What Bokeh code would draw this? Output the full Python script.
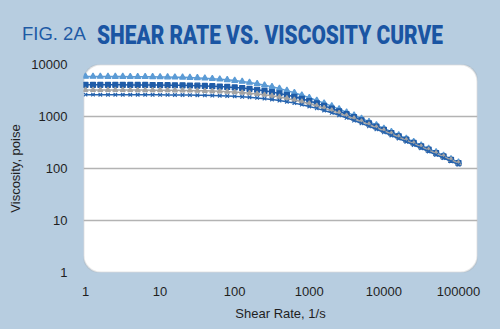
from bokeh.plotting import figure
from bokeh.layouts import column
from bokeh.models import (Range1d, FixedTicker, CustomJSTickFormatter, BoxAnnotation,
                          ColumnDataSource, Div)
from bokeh.embed import file_html
from bokeh.resources import INLINE

# Shear rate, 1/s (10 points per decade)
shear_rate = [1, 1.26, 1.58, 2, 2.51, 3.16, 3.98, 5.01, 6.31, 7.94,
              10, 12.6, 15.8, 20, 25.1, 31.6, 39.8, 50.1, 63.1, 79.4,
              100, 126, 158, 200, 251, 316, 398, 501, 631, 794,
              1000, 1260, 1580, 2000, 2510, 3160, 3980, 5010, 6310, 7940,
              10000, 12600, 15800, 20000, 25100, 31600, 39800, 50100, 63100, 79400,
              100000]

# Viscosity, poise (four samples)
visc_a = [5880, 5873, 5869, 5864, 5858, 5850, 5840, 5828, 5812, 5793,
          5769, 5738, 5701, 5655, 5598, 5529, 5445, 5343, 5222, 5078,
          4911, 4720, 4503, 4263, 4004, 3727, 3440, 3147, 2855, 2570,
          2298, 2040, 1803, 1584, 1387, 1209, 1052, 913, 791, 684,
          590, 509, 439, 378, 325, 280, 241, 207, 178, 153,
          132]
visc_b = [4069, 4068, 4066, 4064, 4061, 4058, 4054, 4048, 4041, 4033,
          4022, 4009, 3992, 3971, 3946, 3914, 3875, 3827, 3769, 3700,
          3616, 3518, 3403, 3271, 3122, 2956, 2778, 2587, 2389, 2187,
          1986, 1789, 1601, 1423, 1258, 1107, 970, 847, 738, 641,
          555, 481, 416, 359, 310, 267, 230, 198, 171, 147,
          127]
visc_c = [3233, 3232, 3231, 3229, 3228, 3226, 3223, 3220, 3216, 3210,
          3204, 3196, 3185, 3172, 3156, 3136, 3112, 3081, 3044, 2999,
          2945, 2880, 2803, 2714, 2611, 2495, 2366, 2226, 2077, 1921,
          1762, 1604, 1448, 1299, 1158, 1027, 906, 796, 698, 609,
          531, 462, 401, 348, 301, 261, 226, 195, 169, 146,
          126]
visc_d = [2628, 2628, 2627, 2626, 2625, 2623, 2622, 2620, 2617, 2613,
          2609, 2604, 2597, 2589, 2578, 2565, 2549, 2529, 2504, 2474,
          2438, 2394, 2341, 2279, 2206, 2123, 2028, 1923, 1809, 1688,
          1561, 1432, 1303, 1177, 1056, 941, 835, 736, 647, 567,
          495, 431, 375, 326, 283, 245, 212, 183, 159, 137,
          119]

x_ticks = [1, 10, 100, 1000, 10000, 100000]
y_ticks = [1, 10, 100, 1000, 10000]
grid_ticks = [10, 100, 1000]

fig_no = "FIG. 2A"
fig_title = "SHEAR RATE VS. VISCOSITY CURVE"

BG = "#b7cde0"
TXT = "#1f1f1f"
FONT = "Liberation Sans"

# ---- header with the figure title ----
header_html = (
    '<div style="position:relative;width:500px;height:56px;">'
    '<span style="position:absolute;left:22px;top:25px;font-family:\'Liberation Sans\';'
    'font-size:18.5px;line-height:1;color:#1e5aa5;white-space:nowrap;">' + fig_no + '</span>'
    '<span style="position:absolute;left:97px;top:23px;font-family:Roboto;font-weight:900;'
    'font-size:25px;line-height:1;color:#1a55a3;white-space:nowrap;display:inline-block;'
    'transform:scaleX(0.835);transform-origin:0 0;">' + fig_title + '</span>'
    '</div>'
)
head = Div(text=header_html, width=500, height=56, margin=0,
           styles={"background-color": BG, "overflow": "hidden"})

# ---- main chart ----
p = figure(width=500, height=273, x_axis_type="log", y_axis_type="log",
           output_backend="svg", toolbar_location=None,
           x_range=Range1d(0.94, 179800), y_range=Range1d(1, 10000),
           min_border_left=83, min_border_right=23, min_border_top=8,
           min_border_bottom=57, margin=0)
p.background_fill_color = BG
p.border_fill_color = BG
p.outline_line_color = None

panel = BoxAnnotation(fill_color="white", fill_alpha=1.0, line_color="#a9a9a9",
                      line_width=2, border_radius=17, level="image")
p.add_layout(panel)

p.xgrid.visible = False
p.ygrid.ticker = FixedTicker(ticks=grid_ticks)
p.ygrid.grid_line_color = "#b3b3b3"
p.ygrid.grid_line_width = 1.5

fmt = CustomJSTickFormatter(code="return Math.round(tick).toString();")
for ax, ticks in ((p.xaxis, x_ticks), (p.yaxis, y_ticks)):
    ax.ticker = FixedTicker(ticks=ticks)
    ax.formatter = fmt
    ax.axis_line_color = None
    ax.major_tick_line_color = None
    ax.minor_tick_line_color = None
    ax.major_label_text_font = FONT
    ax.major_label_text_font_size = "13px"
    ax.major_label_text_color = TXT
    ax.axis_label_text_font = FONT
    ax.axis_label_text_font_size = "13px"
    ax.axis_label_text_font_style = "normal"
    ax.axis_label_text_color = TXT

p.xaxis.axis_label = "Shear Rate, 1/s"
p.yaxis.axis_label = "Viscosity, poise"
p.xaxis.major_label_standoff = 8
p.yaxis.major_label_standoff = 10
p.xaxis.axis_label_standoff = 7
p.yaxis.axis_label_standoff = 5

src = ColumnDataSource(dict(x=shear_rate, a=visc_a, b=visc_b, c=visc_c, d=visc_d))

series = [("a", "#5b9bd5", "triangle", 6),
          ("b", "#1f5ca8", "square", 5),
          ("c", "#a3a3a3", "triangle", 5),
          ("d", "#2563ae", "x", 5)]
for col, color, marker, size in series:
    p.line("x", col, source=src, line_color=color, line_width=1.5)
    p.scatter("x", col, source=src, marker=marker, size=size,
              fill_color=color, line_color=color, line_width=1.2)

layout = column(head, p, spacing=0, styles={"background-color": BG})
open("out.html", "w").write(file_html(layout, INLINE))
